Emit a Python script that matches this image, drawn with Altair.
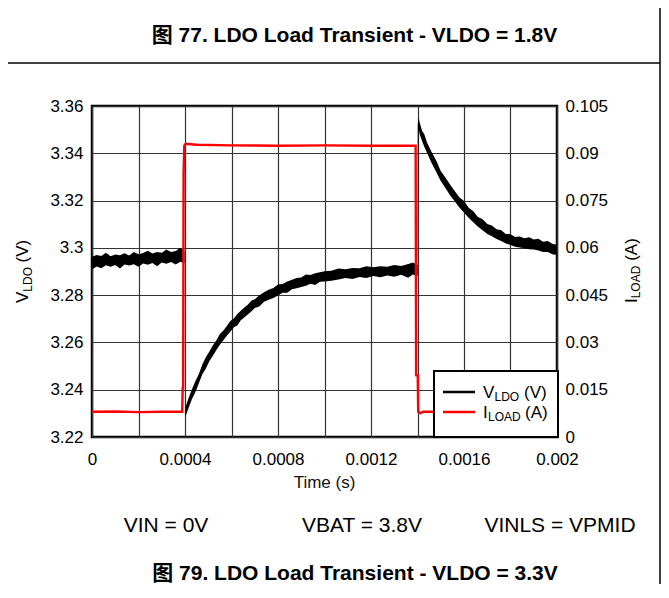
import altair as alt
import pandas as pd

# ---------------- data ----------------
# V_LDO trace (noisy band): time (s), lower edge (V), upper edge (V)
T_V = [0, 0.00002, 0.00004, 0.00006, 0.00008, 0.0001, 0.00012, 0.00014, 0.00016, 0.00018,
       0.0002, 0.00022, 0.00024, 0.00026, 0.00028, 0.0003, 0.00032, 0.00034, 0.00036, 0.00038,
       0.000398,
       0.000402, 0.000415, 0.00043, 0.000445, 0.00046, 0.000475, 0.00049, 0.000505, 0.00052,
       0.000535, 0.00055, 0.000565, 0.00058, 0.000595, 0.00061, 0.000625, 0.00064, 0.000655,
       0.00067, 0.000685, 0.0007, 0.00072, 0.00074, 0.00076, 0.00078, 0.0008, 0.00082, 0.00084,
       0.00086, 0.00088, 0.0009, 0.00092, 0.00094, 0.00096, 0.00098, 0.001, 0.00103, 0.00106,
       0.00109, 0.00112, 0.00115, 0.00118, 0.00121, 0.00124, 0.00127, 0.0013, 0.00133, 0.00136,
       0.00138, 0.0014,
       0.001401, 0.001405, 0.00141, 0.00142, 0.00143, 0.00144, 0.00146, 0.00148, 0.0015,
       0.00152, 0.00154, 0.00156, 0.00158, 0.0016, 0.00162, 0.00164, 0.00166, 0.00168, 0.0017,
       0.00172, 0.00174, 0.00176, 0.00178, 0.0018, 0.00182, 0.00184, 0.00186, 0.00188, 0.0019,
       0.00192, 0.00194, 0.00196, 0.00198, 0.002]
V_LO = [3.2908, 3.2921, 3.2914, 3.2926, 3.2920, 3.2928, 3.2913, 3.2930, 3.2925, 3.2931,
        3.2920, 3.2934, 3.2929, 3.2936, 3.2922, 3.2938, 3.2933, 3.2940, 3.2930, 3.2941,
        3.2935,
        3.2286, 3.2322, 3.2361, 3.2390, 3.2428, 3.2466, 3.2490, 3.2521, 3.2544,
        3.2568, 3.2590, 3.2609, 3.2628, 3.2645, 3.2664, 3.2672, 3.2694, 3.2705,
        3.2718, 3.2731, 3.2746, 3.2752, 3.2772, 3.2780, 3.2788, 3.2799, 3.2810, 3.2810,
        3.2825, 3.2829, 3.2834, 3.2840, 3.2848, 3.2843, 3.2857, 3.2858, 3.2861, 3.2866,
        3.2872, 3.2868, 3.2877, 3.2872, 3.2881, 3.2876, 3.2883, 3.2878, 3.2886, 3.2874,
        3.2887, 3.2880,
        3.2890, 3.3502, 3.3478, 3.3451, 3.3426, 3.3404, 3.3360, 3.3322, 3.3283,
        3.3253, 3.3222, 3.3197, 3.3171, 3.3150, 3.3127, 3.3108, 3.3089, 3.3075, 3.3059,
        3.3049, 3.3037, 3.3029, 3.3018, 3.3012, 3.3005, 3.3002, 3.2998, 3.2994, 3.2993,
        3.2989, 3.2983, 3.2983, 3.2973, 3.2970]
V_HI = [3.2962, 3.2970, 3.2966, 3.2979, 3.2965, 3.2972, 3.2969, 3.2977, 3.2968, 3.2983,
        3.2973, 3.2978, 3.2988, 3.2976, 3.2983, 3.2979, 3.2993, 3.2982, 3.2987, 3.3000,
        3.2986,
        3.2326, 3.2364, 3.2402, 3.2437, 3.2468, 3.2508, 3.2538, 3.2562, 3.2588,
        3.2609, 3.2636, 3.2650, 3.2669, 3.2691, 3.2701, 3.2720, 3.2734, 3.2748,
        3.2759, 3.2776, 3.2783, 3.2800, 3.2812, 3.2823, 3.2830, 3.2845, 3.2847, 3.2858,
        3.2865, 3.2872, 3.2875, 3.2887, 3.2885, 3.2893, 3.2897, 3.2901, 3.2903, 3.2913,
        3.2909, 3.2915, 3.2914, 3.2922, 3.2918, 3.2922, 3.2920, 3.2928, 3.2923, 3.2932,
        3.2938, 3.2928,
        3.3520, 3.3550, 3.3528, 3.3494, 3.3479, 3.3448, 3.3407, 3.3371, 3.3325,
        3.3298, 3.3268, 3.3240, 3.3214, 3.3198, 3.3170, 3.3155, 3.3131, 3.3121, 3.3101,
        3.3095, 3.3079, 3.3074, 3.3059, 3.3058, 3.3046, 3.3048, 3.3041, 3.3045, 3.3035,
        3.3038, 3.3026, 3.3029, 3.3017, 3.3013]

# I_LOAD trace: time (s), current (A)
T_I = [0, 0.0001, 0.0002, 0.0003, 0.000388, 0.00039, 0.000392, 0.000394, 0.000397, 0.000403,
       0.00045, 0.0006, 0.0008, 0.001, 0.0012, 0.001392, 0.001394, 0.001401, 0.001403,
       0.001412, 0.001425, 0.0017, 0.002]
I_LOAD = [0.0080, 0.0081, 0.0079, 0.0080, 0.0080, 0.0155, 0.0155, 0.0838, 0.0924, 0.0930,
          0.0927, 0.0925, 0.0924, 0.0925, 0.0924, 0.0924, 0.0196, 0.0195, 0.0080,
          0.0076, 0.0080, 0.0080, 0.0080]

# axes
X_TICKS = [0, 0.0002, 0.0004, 0.0006, 0.0008, 0.001, 0.0012, 0.0014, 0.0016, 0.0018, 0.002]
V_TICKS = [3.22, 3.24, 3.26, 3.28, 3.3, 3.32, 3.34, 3.36]
I_TICKS = [0, 0.015, 0.03, 0.045, 0.06, 0.075, 0.09, 0.105]

# texts
TITLE_TOP = "图 77. LDO Load Transient - VLDO = 1.8V"
TITLE_BOTTOM = "图 79. LDO Load Transient - VLDO = 3.3V"
CONDITIONS = ["VIN = 0V", "VBAT = 3.8V", "VINLS = VPMID"]
X_TITLE = "Time (s)"

# ---------------- chart ----------------
FONT = "Liberation Sans, Arial, 'Noto Sans CJK SC', sans-serif"
W, H = 465, 331

volt = pd.DataFrame({"t": T_V, "lo": V_LO, "hi": V_HI})
cur = pd.DataFrame({"t": T_I, "i": I_LOAD})
dummy = pd.DataFrame({"k": [0]})

x_scale = alt.Scale(domain=[0, 0.002], nice=False, zero=False)
x_axis = alt.Axis(values=X_TICKS, format=".4~f", title=None,
                  labelExpr="round(datum.value*10000) % 4 == 0 ? datum.label : ''",
                  grid=True, labelPadding=14, labelFlush=False)

black = alt.Chart(volt).mark_area(color="black", opacity=1).encode(
    x=alt.X("t:Q", scale=x_scale, axis=x_axis),
    y=alt.Y("lo:Q", scale=alt.Scale(domain=[3.22, 3.36], nice=False, zero=False),
            axis=alt.Axis(values=V_TICKS, format=".2~f", title=None, grid=True,
                          orient="left", labelPadding=9)),
    y2="hi:Q",
)

red = alt.Chart(cur).mark_line(color="#ff0000", strokeWidth=2.4).encode(
    x=alt.X("t:Q", scale=x_scale, axis=x_axis),
    y=alt.Y("i:Q", scale=alt.Scale(domain=[0, 0.105], nice=False, zero=False),
            axis=alt.Axis(values=I_TICKS, format=".3~f", title=None, grid=False,
                          orient="right", labelPadding=8)),
)


def txt(s, x, y, size=17, weight="normal", align="left", angle=0, color="black"):
    return alt.Chart(dummy).mark_text(
        text=s, font=FONT, fontSize=size, fontWeight=weight, align=align,
        baseline="alphabetic", angle=angle, color=color,
    ).encode(x=alt.value(x), y=alt.value(y))


layers = [black, red]

# legend box
layers.append(alt.Chart(dummy).mark_rect(fill="white", stroke="black", strokeWidth=2).encode(
    x=alt.value(342), x2=alt.value(466), y=alt.value(265), y2=alt.value(331)))
layers.append(alt.Chart(dummy).mark_rule(color="black", strokeWidth=2.5).encode(
    x=alt.value(351), x2=alt.value(383), y=alt.value(286)))
layers.append(alt.Chart(dummy).mark_rule(color="#ff0000", strokeWidth=2.5).encode(
    x=alt.value(351), x2=alt.value(383), y=alt.value(306)))
layers += [
    txt("V", 391, 292), txt("LDO", 402.5, 295, size=12), txt("(V)", 432, 292),
    txt("I", 391, 311.5), txt("LOAD", 396, 314.5, size=12), txt("(A)", 433, 311.5),
]

# axis titles (with subscripts)
layers += [
    txt("V", -64, 197, angle=270), txt("LDO", -60.5, 185.7, size=12, angle=270),
    txt("(V)", -64, 156.5, angle=270),
    txt("I", 545, 197, angle=270), txt("LOAD", 548, 192.3, size=12, angle=270),
    txt("(A)", 545, 154.8, angle=270),
    txt(X_TITLE, 232.5, 382, align="center", color="#111111"),
]

# page texts and separators
layers += [
    txt(TITLE_TOP, 262.5, -64, size=21, weight="bold", align="center"),
    txt(TITLE_BOTTOM, 263, 474, size=21, weight="bold", align="center"),
    txt(CONDITIONS[0], 74, 426, size=21, align="center"),
    txt(CONDITIONS[1], 270, 426, size=21, align="center"),
    txt(CONDITIONS[2], 468, 426, size=21, align="center"),
]
layers.append(alt.Chart(dummy).mark_rule(color="black", strokeWidth=1.5).encode(
    x=alt.value(-92), x2=alt.value(568), y=alt.value(-43)))
layers.append(alt.Chart(dummy).mark_rule(color="black", strokeWidth=1.5).encode(
    x=alt.value(568), y=alt.value(-98), y2=alt.value(480)))

chart = alt.layer(*layers).resolve_scale(y="independent").properties(
    width=W, height=H,
    autosize=alt.AutoSizeParams(type="none"),
    padding={"left": 84, "top": 98, "right": 104, "bottom": 147},
).configure_view(
    stroke="black", strokeWidth=2.5
).configure_axis(
    labelFont=FONT, labelFontSize=17, labelColor="black",
    gridColor="#333333", gridWidth=1.2, gridOpacity=1,
    domain=False, ticks=False,
)

chart.save("out.html", embed_options={"renderer": "svg", "actions": False})
